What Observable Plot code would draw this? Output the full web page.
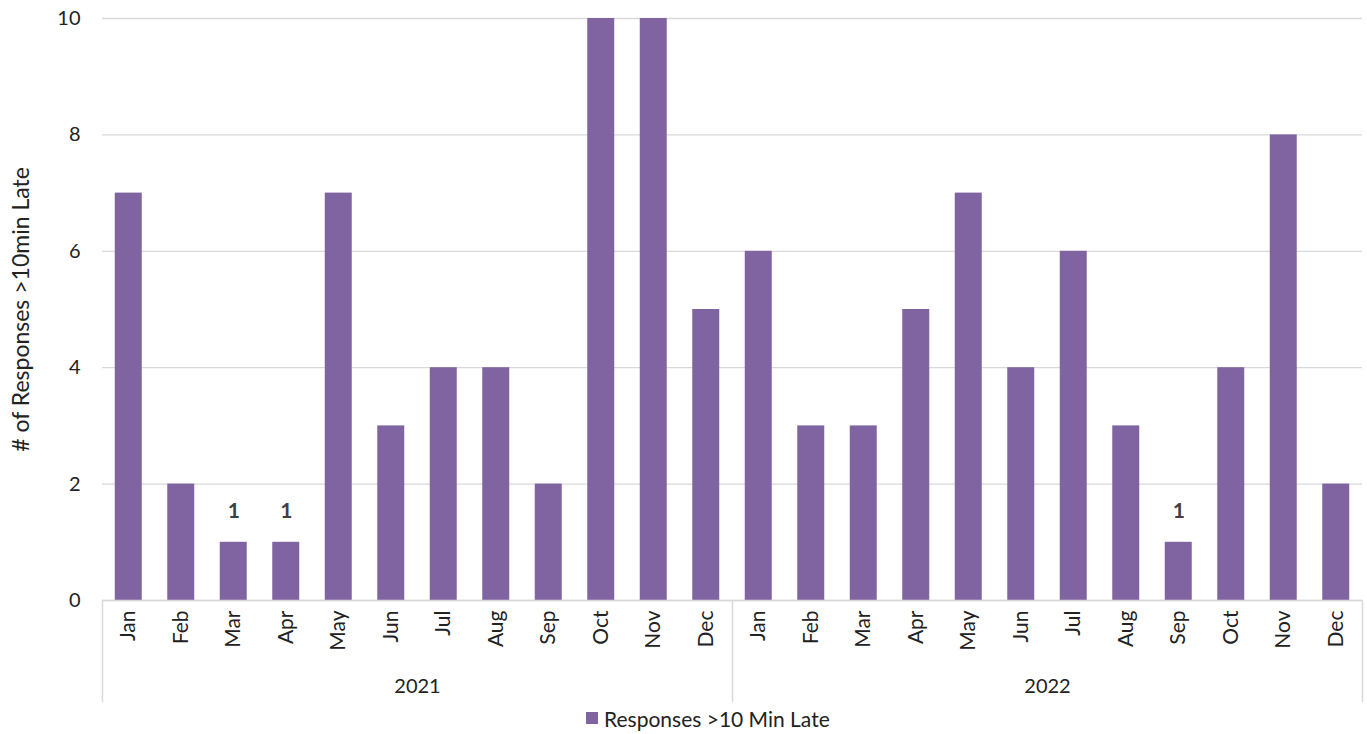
<!DOCTYPE html>
<html>
<head>
<meta charset="utf-8">
<script src="https://cdn.jsdelivr.net/npm/d3@7"></script>
<script src="https://cdn.jsdelivr.net/npm/@observablehq/plot@0.6"></script>
<style>
  body { margin: 0; background: #fff; font-family: Lato, "Open Sans", sans-serif; }
  #legend { display: flex; align-items: center; padding-left: 586px; height: 26px; font-size: 21px; color: #222; }
  #legend .sw { width: 12px; height: 12px; background: #8064A2; margin-right: 6px; }
  g[aria-label="y-axis label"] text { font-size: 23px; }
</style>
</head>
<body>
<div id="chart"></div>
<div id="legend"><span class="sw"></span><span>Responses &gt;10 Min Late</span></div>
<script>
const years = [2021, 2022];
const months = ["Jan","Feb","Mar","Apr","May","Jun","Jul","Aug","Sep","Oct","Nov","Dec"];
const values2021 = [7, 2, 1, 1, 7, 3, 4, 4, 2, 10, 10, 5];
const values2022 = [6, 3, 3, 5, 7, 4, 6, 3, 1, 4, 8, 2];
const yTicks = [0, 2, 4, 6, 8, 10];
const seriesName = "Responses >10 Min Late";
const yLabel = "# of Responses >10min Late";

const data = [
  ...months.map((m, i) => ({year: 2021, month: m, value: values2021[i]})),
  ...months.map((m, i) => ({year: 2022, month: m, value: values2022[i]}))
];
const leftSeparators = [{year: 2021, month: "Jan"}, {year: 2022, month: "Jan"}];
const rightSeparators = [{year: 2022, month: "Dec"}];

const W = 1367, mL = 102, mR = 5;
const step = (W - mL - mR) / 24;

const chart = Plot.plot({
  width: W,
  height: 705,
  marginLeft: mL,
  marginRight: mR,
  marginTop: 18,
  marginBottom: 105,
  style: {fontFamily: "Lato, 'Open Sans', sans-serif", fontSize: "21px", color: "#222", background: "#fff"},
  fx: {domain: years, padding: 0, round: false},
  x: {domain: months, paddingInner: 0.486, paddingOuter: 0.243, round: false},
  y: {domain: [0, 10]},
  marks: [
    Plot.gridY(yTicks, {stroke: "#d9d9d9", strokeOpacity: 1, strokeWidth: 1.3}),
    Plot.barY(data, {fx: "year", x: "month", y: "value", fill: "#8064A2"}),
    Plot.ruleY([0], {stroke: "#d9d9d9", strokeWidth: 1.5}),
    Plot.ruleX(leftSeparators, {fx: "year", x: "month", y1: 0, y2: 0, insetBottom: -102,
      dx: -step / 2, stroke: "#d9d9d9", strokeWidth: 1.5}),
    Plot.ruleX(rightSeparators, {fx: "year", x: "month", y1: 0, y2: 0, insetBottom: -102,
      dx: step / 2, stroke: "#d9d9d9", strokeWidth: 1.5}),
    Plot.text(data.filter(d => d.value === 1), {fx: "year", x: "month", y: "value", text: d => String(d.value),
      dy: -31, fontWeight: "bold", fill: "#404040", fontSize: 21}),
    Plot.axisY(yTicks, {tickSize: 0, tickPadding: 22, tickFormat: d => String(d), label: yLabel, labelAnchor: "center", labelArrow: "none", labelOffset: 90, fontSize: 20}),
    Plot.axisX({tickSize: 0, tickPadding: 10, tickRotate: -90, label: null, fontSize: 21}),
    Plot.axisFx({anchor: "bottom", tickSize: 0, tickPadding: 78, tickFormat: d => String(d), label: null, fontSize: 20})
  ]
});

document.getElementById("chart").appendChild(chart);
</script>
</body>
</html>
